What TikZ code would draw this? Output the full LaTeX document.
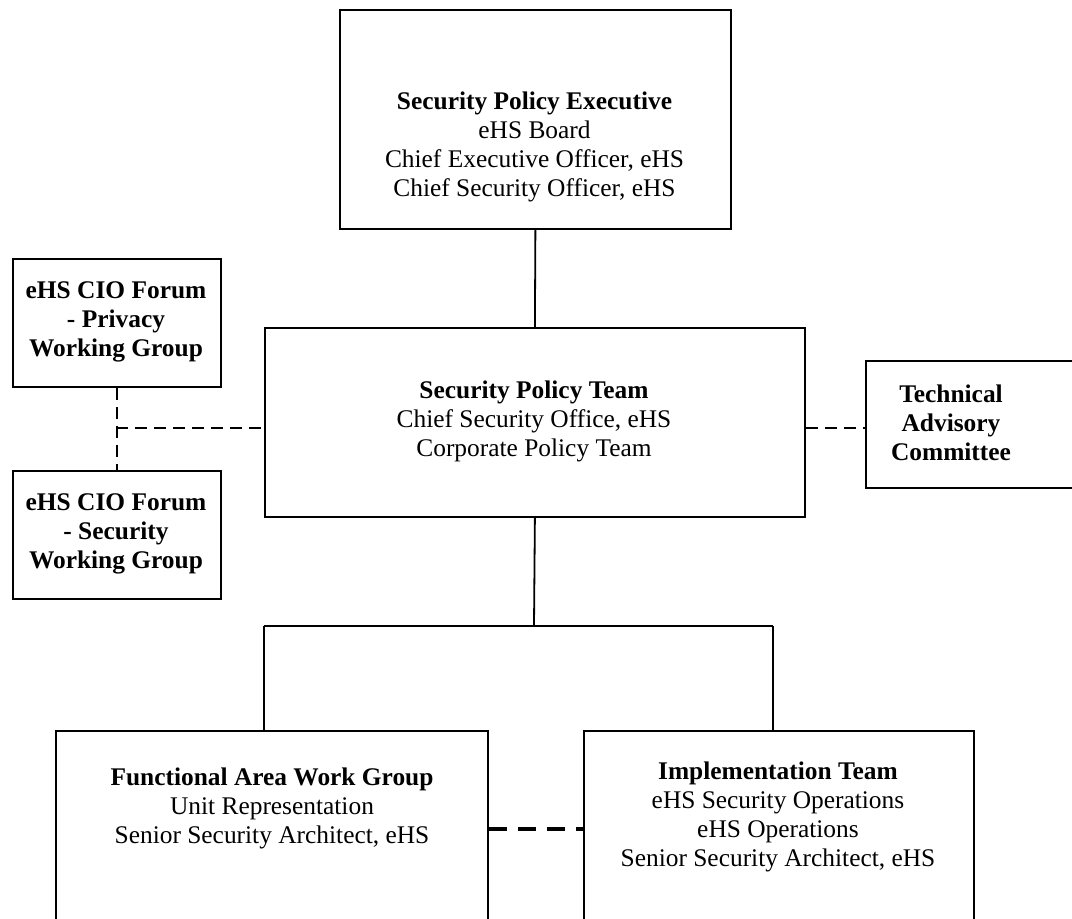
\documentclass[tikz,border=0pt]{standalone}
\usepackage{fontspec}
\setmainfont{Liberation Serif}
\begin{document}
\begin{tikzpicture}[x=1pt,y=-1pt,
  box/.style={draw, line width=1.8pt, rectangle, anchor=north west, inner sep=0pt},
  txt/.style={align=center, font=\fontsize{25.4}{29}\selectfont, inner sep=0pt},
  conn/.style={line width=1.8pt},
  dconn/.style={line width=2.2pt, dash pattern=on 12pt off 7pt},
  ddconn/.style={line width=3.2pt, dash pattern=on 18pt off 11pt}]
\clip (0,0) rectangle (1072,919);
% boxes
\node[box, minimum width=391pt, minimum height=219pt] (exec) at (339,9) {};
\node[box, minimum width=540pt, minimum height=189pt] (team) at (264,327) {};
\node[box, minimum width=208pt, minimum height=128pt] (priv) at (12,258) {};
\node[box, minimum width=208pt, minimum height=128pt] (secw) at (12,470) {};
\node[box, minimum width=220pt, minimum height=127pt] (tac) at (865,360) {};
\node[box, minimum width=432pt, minimum height=230pt] (faw) at (55,730) {};
\node[box, minimum width=390pt, minimum height=230pt] (imp) at (583,730) {};
% texts
\node[txt] (exect) at (534.5,147) {\textbf{Security Policy Executive}\\eHS Board\\Chief Executive Officer, eHS\\Chief Security Officer, eHS};
\node[txt] (teamt) at (534,421) {\textbf{Security Policy Team}\\Chief Security Office, eHS\\Corporate Policy Team};
\node[txt] (privt) at (116,322) {\textbf{eHS CIO Forum}\\\textbf{- Privacy}\\\textbf{Working Group}};
\node[txt] (secwt) at (116,534) {\textbf{eHS CIO Forum}\\\textbf{- Security}\\\textbf{Working Group}};
\node[txt] (tact) at (951,423) {\textbf{Technical}\\\textbf{Advisory}\\\textbf{Committee}};
\node[txt] (fawt) at (272,808) {\textbf{Functional Area Work Group}\\Unit Representation\\Senior Security Architect, eHS};
\node[txt] (impt) at (778,817) {\textbf{Implementation Team}\\eHS Security Operations\\eHS Operations\\Senior Security Architect, eHS};
% junction coordinates
\coordinate (split) at (534,626);
\coordinate (lj) at (264,626);
\coordinate (rj) at (773,626);
\coordinate (lm) at (116,428);
\coordinate (bm) at (0,829);
% solid connectors
\draw[conn] (exec.south) -- (team.north);
\draw[conn] (team.south) -- (split);
\draw[conn] (lj) -- (rj);
\draw[conn] (lj) -- (lj |- faw.north);
\draw[conn] (rj) -- (rj |- imp.north);
% dashed connectors
\draw[dconn] (priv.south) -- (secw.north);
\draw[dconn] (lm) -- (lm -| team.west);
\draw[dconn] (team.east |- lm) -- (tac.west |- lm);
\draw[ddconn] (faw.east |- bm) -- (imp.west |- bm);
\end{tikzpicture}
\end{document}
